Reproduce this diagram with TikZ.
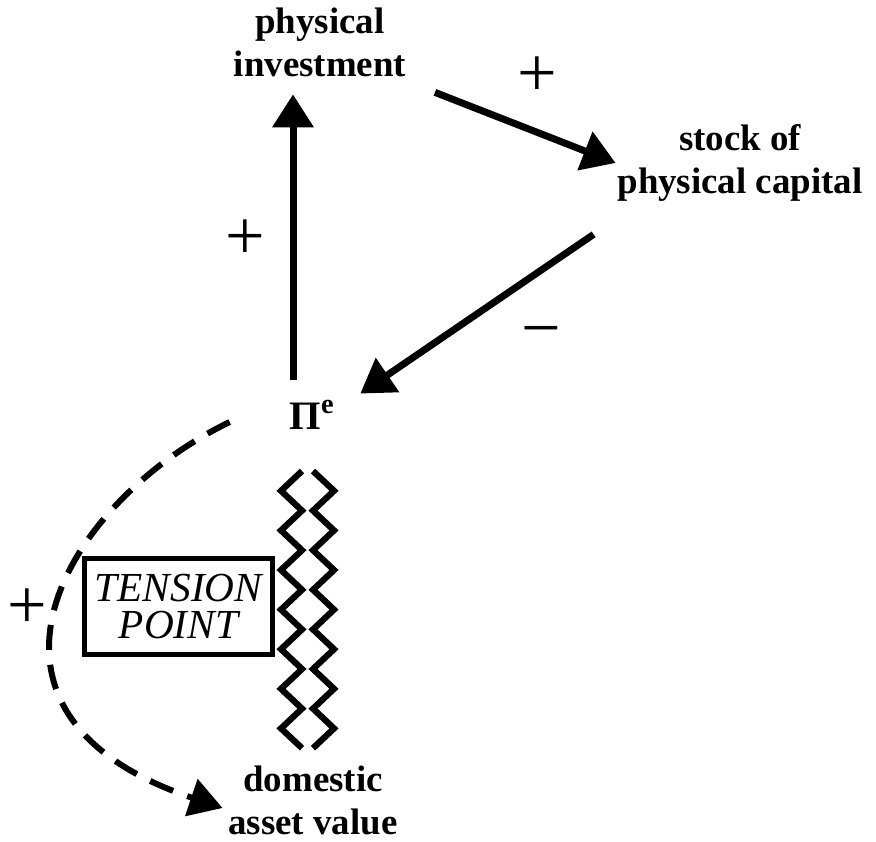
\documentclass[tikz,border=0pt]{standalone}
\usepackage{fontspec}
\setmainfont{Liberation Serif}
\usetikzlibrary{arrows.meta,positioning,calc}
\tikzset{
  lbl/.style={font=\fontsize{21}{24.5}\selectfont\bfseries, align=center, inner sep=2pt},
  sgn/.style={font=\fontsize{40}{40}\selectfont, inner sep=0pt},
  sarr/.style={-{Triangle[length=6.6mm,width=8mm]}, line width=1.4mm},
  darr/.style={-{Triangle[length=6.6mm,width=7.6mm]}, line width=1.2mm, dash pattern=on 5mm off 3mm},
  tbox/.style={draw, line width=0.9mm, minimum width=3.77cm, minimum height=1.93cm,
               align=center, font=\fontsize{23.5}{21.5}\selectfont\itshape},
  zig/.style={line width=1.25mm, line join=miter},
}

\begin{document}
\begin{tikzpicture}[x=0.02cm, y=-0.02cm]
    \useasboundingbox (0,0) rectangle (876,842);
    \node[lbl](inv) at (320,42){physical\\investment};
    \node[lbl](cap) at (740,163){stock of\\physical capital};
    \node[lbl, font=\fontsize{23}{26}\selectfont\bfseries](pi) at (312,415){Π\textsuperscript{e}};
    \node[lbl](dav) at (313,800){domestic\\asset value};
    \node[tbox](tp) at (178.5,606.5){TENSION\\POINT};
    \node[sgn](p1) at (245,240){+};
    \node[sgn](p2) at (537,77){+};
    \node[sgn](m1) at (541,339){−};
    \node[sgn](p3) at (27,609){+};
    % causal links
    \draw[sarr]($(pi.north)+(-19,-17)$)--($(inv.south)+(-27,14)$);
    \draw[sarr]($(inv.south east)+(25,12)$)--($(cap.west)+(2,0)$);
    \draw[sarr]($(cap.south west)+(-20,29)$)--($(pi.north east)+(22,-3)$);
    \draw[darr]($(pi.west)+(-56,7)$) .. controls (62,503) and (-58,714) .. ($(dav.west)+(-2,8)$);
    % tension mark
    \draw[zig](302,471)\foreach \k in {0,2,...,12}{--(281,{490.8+19.8*\k})--(302,{510.6+19.8*\k})};
    \draw[zig](313,471)\foreach \k in {0,2,...,12}{--(334,{490.8+19.8*\k})--(313,{510.6+19.8*\k})};
\end{tikzpicture}
\end{document}
